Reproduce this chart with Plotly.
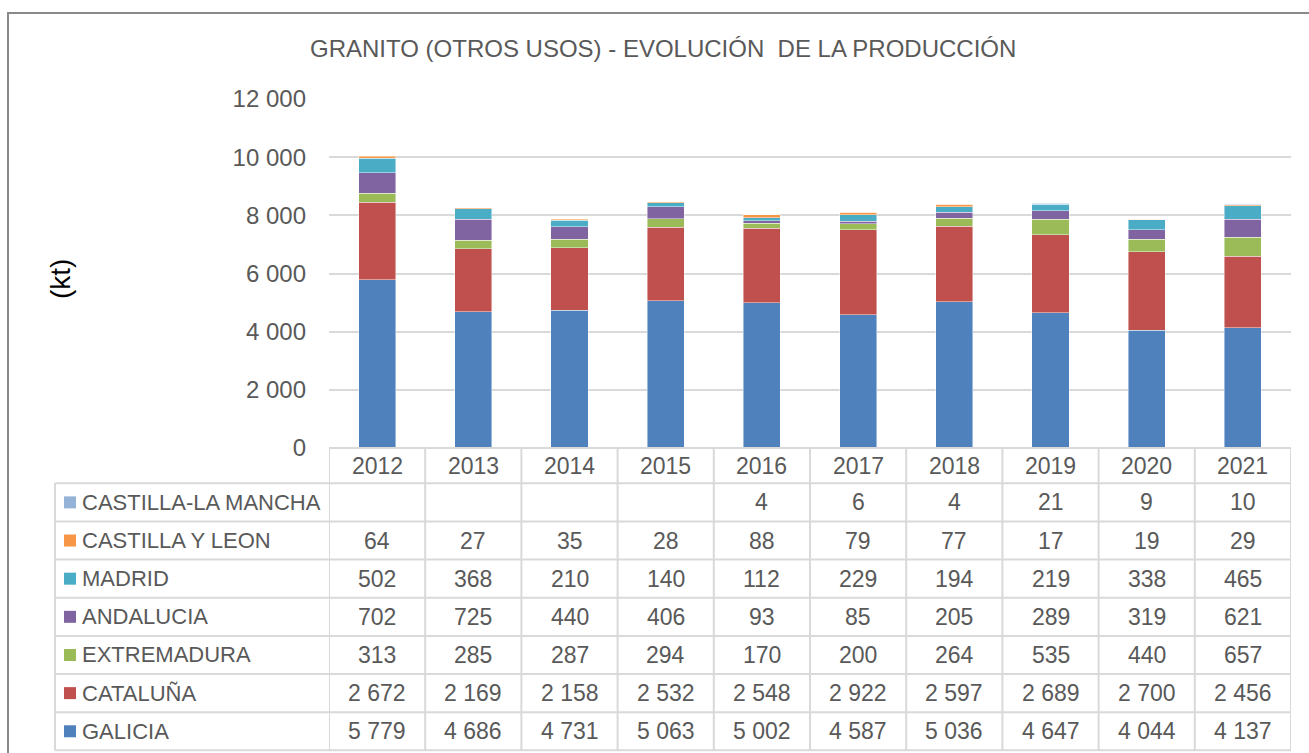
import plotly.graph_objects as go

W, H = 1309, 753
OFF = 0  # body margin removed in the page (see post_script)

years = ["2012", "2013", "2014", "2015", "2016", "2017", "2018", "2019", "2020", "2021"]

galicia = [5779, 4686, 4731, 5063, 5002, 4587, 5036, 4647, 4044, 4137]
cataluna = [2672, 2169, 2158, 2532, 2548, 2922, 2597, 2689, 2700, 2456]
extremadura = [313, 285, 287, 294, 170, 200, 264, 535, 440, 657]
andalucia = [702, 725, 440, 406, 93, 85, 205, 289, 319, 621]
madrid = [502, 368, 210, 140, 112, 229, 194, 219, 338, 465]
castilla_leon = [64, 27, 35, 28, 88, 79, 77, 17, 19, 29]
castilla_la_mancha = [None, None, None, None, 4, 6, 4, 21, 9, 10]

series_names = ["GALICIA", "CATALUÑA", "EXTREMADURA", "ANDALUCIA", "MADRID",
                "CASTILLA Y LEON", "CASTILLA-LA MANCHA"]
series_values = [galicia, cataluna, extremadura, andalucia, madrid,
                 castilla_leon, castilla_la_mancha]
series_colors = ["#4F81BD", "#C0504D", "#9BBB59", "#8064A2", "#4BACC6",
                 "#F79646", "#95B3D7"]

yticks = [0, 2000, 4000, 6000, 8000, 10000, 12000]

FONT = "Liberation Sans"
TXT = "#595959"
GRID = "#D9D9D9"


def px(x):
    return (x - OFF) / W


def py(y):
    return 1 - (y - OFF) / H


def fmt(v):
    return "" if v is None else f"{v:,}".replace(",", " ")


fig = go.Figure()
for name, vals, col in zip(series_names, series_values, series_colors):
    fig.add_trace(go.Bar(
        x=years, y=vals, name=name,
        marker=dict(color=col, line=dict(color="rgba(255,255,255,0.55)", width=0.8)),
        showlegend=False,
    ))

X0, X1 = 329, 1291
Y0, Y1 = 448, 99

shapes = []
annotations = []

# outer chart border (right and bottom edges lie outside the picture)
shapes.append(dict(type="rect", xref="paper", yref="paper",
                   x0=px(8), x1=px(1400), y0=py(13), y1=py(820),
                   line=dict(color="#898989", width=2), fillcolor="rgba(0,0,0,0)"))

# data table geometry
row_top = 483.3
row_h = 38.15
n_rows = len(series_names)
tbl_bottom = row_top + n_rows * row_h
LBL_X0 = 55

shapes.append(dict(type="line", xref="paper", yref="paper",
                   x0=px(X0), x1=px(X1), y0=py(Y0), y1=py(Y0),
                   line=dict(color=GRID, width=2)))
for r in range(n_rows + 1):
    yy = row_top + r * row_h
    shapes.append(dict(type="line", xref="paper", yref="paper",
                       x0=px(LBL_X0), x1=px(X1), y0=py(yy), y1=py(yy),
                       line=dict(color=GRID, width=2)))
shapes.append(dict(type="line", xref="paper", yref="paper",
                   x0=px(LBL_X0), x1=px(LBL_X0), y0=py(row_top), y1=py(tbl_bottom),
                   line=dict(color=GRID, width=2)))
for j in range(len(years) + 1):
    shapes.append(dict(type="line", xref="x", yref="paper",
                       x0=j - 0.5, x1=j - 0.5, y0=py(Y0), y1=py(tbl_bottom),
                       line=dict(color=GRID, width=2)))

# header (years)
for j, yr in enumerate(years):
    annotations.append(dict(x=j, xref="x", y=py((Y0 + row_top) / 2), yref="paper",
                            text=yr, showarrow=False, xanchor="center", yanchor="middle",
                            font=dict(family=FONT, size=23, color=TXT)))

# rows: top row is last series
for r, idx in enumerate(reversed(range(n_rows))):
    yc = row_top + (r + 0.5) * row_h
    shapes.append(dict(type="rect", xref="paper", yref="paper",
                       x0=px(64), x1=px(76), y0=py(yc - 6), y1=py(yc + 6),
                       line=dict(width=0), fillcolor=series_colors[idx]))
    annotations.append(dict(x=px(80), xref="paper", y=py(yc), yref="paper",
                            text=series_names[idx], showarrow=False,
                            xanchor="left", yanchor="middle",
                            font=dict(family=FONT, size=22, color=TXT)))
    for j, v in enumerate(series_values[idx]):
        if v is None:
            continue
        annotations.append(dict(x=j, xref="x", y=py(yc), yref="paper",
                                text=fmt(v), showarrow=False,
                                xanchor="center", yanchor="middle",
                                font=dict(family=FONT, size=23, color=TXT)))

annotations.append(dict(x=px(663), xref="paper", y=py(49), yref="paper",
                        text="GRANITO (OTROS USOS) - EVOLUCIÓN  DE LA PRODUCCIÓN",
                        showarrow=False, xanchor="center", yanchor="middle",
                        font=dict(family=FONT, size=24, color=TXT)))
annotations.append(dict(x=px(60), xref="paper", y=py(279), yref="paper",
                        text="(kt)", textangle=-90, showarrow=False,
                        xanchor="center", yanchor="middle",
                        font=dict(family=FONT, size=28, color="#000000")))

fig.update_layout(
    width=W, height=H,
    margin=dict(l=0, r=0, t=0, b=0, autoexpand=False),
    paper_bgcolor="white", plot_bgcolor="white",
    barmode="stack", bargap=0.615,
    separators=", ",
    shapes=shapes, annotations=annotations,
    xaxis=dict(type="category", domain=[px(X0), px(X1)], range=[-0.5, len(years) - 0.5],
               showticklabels=False, showgrid=False, zeroline=False, showline=False,
               automargin=False, fixedrange=True),
    yaxis=dict(domain=[py(Y0), py(Y1)], range=[0, 12000], tickvals=yticks,
               tickformat=",d", showgrid=True, gridcolor=GRID, gridwidth=2,
               zeroline=False, showline=False, ticks="", ticklabelstandoff=22,
               automargin=False,
               tickfont=dict(family=FONT, size=24, color=TXT), fixedrange=True),
)

fig.write_html(
    "out.html",
    config={"displayModeBar": False},
    post_script="document.body.style.margin='0';document.body.style.overflow='hidden';",
)
